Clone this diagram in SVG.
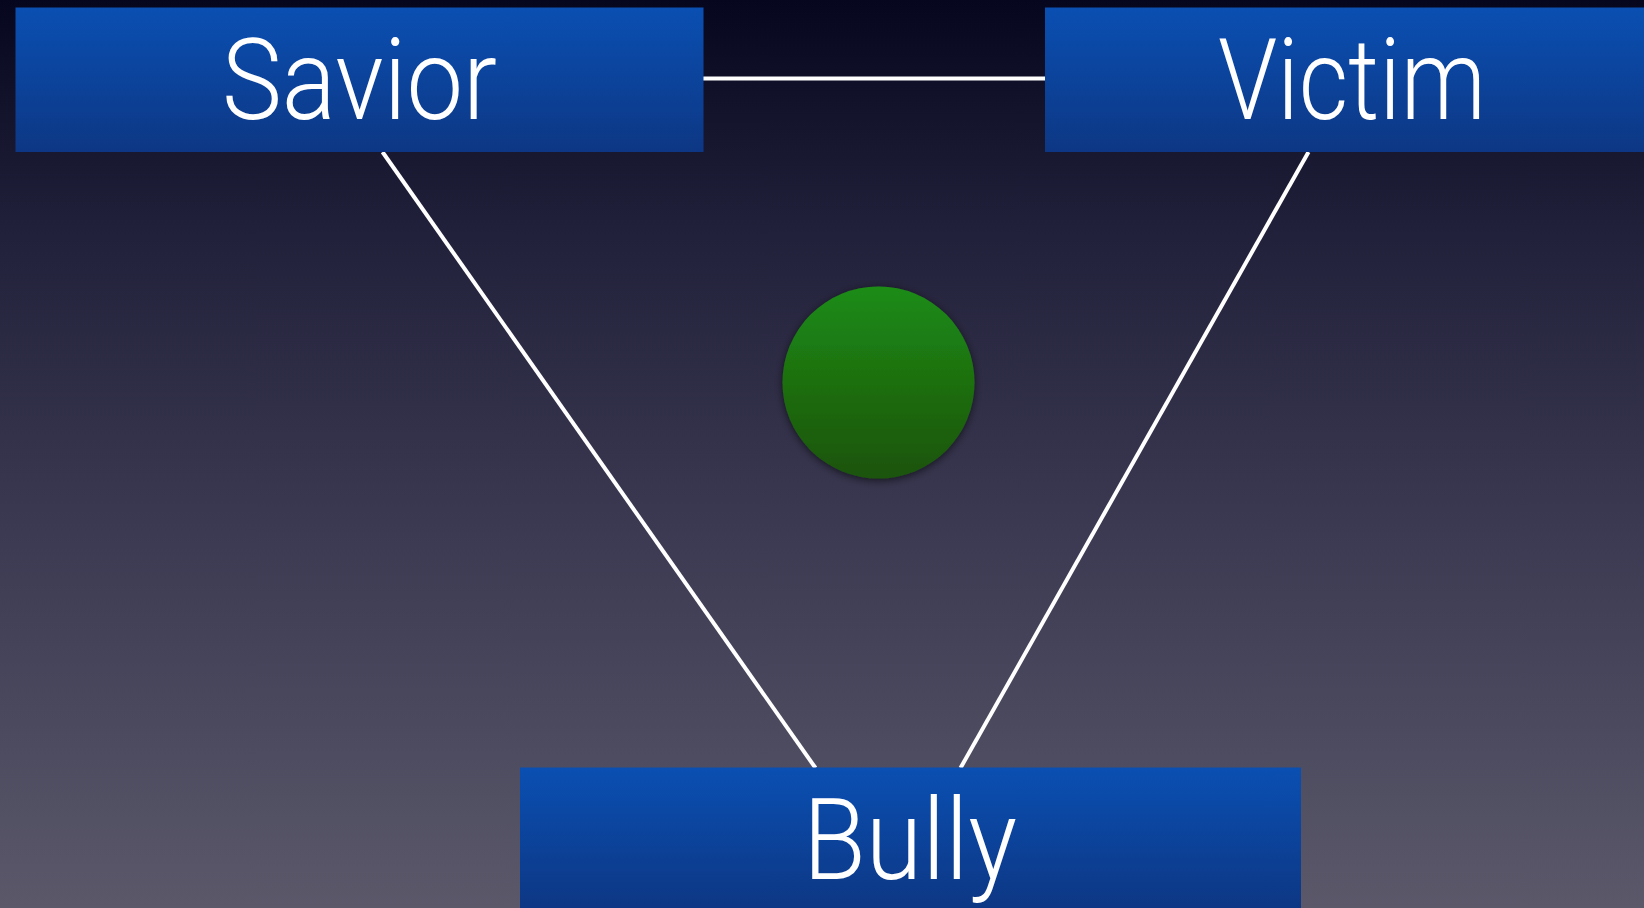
<svg xmlns="http://www.w3.org/2000/svg" width="1644" height="908" viewBox="0 0 1644 908">
<defs>
<linearGradient id="bg" x1="0" y1="0" x2="0" y2="1">
<stop offset="0" stop-color="#06071e"/>
<stop offset="0.25" stop-color="#21203a"/>
<stop offset="0.6" stop-color="#3d3b53"/>
<stop offset="1" stop-color="#5a5869"/>
</linearGradient>
<linearGradient id="box" x1="0" y1="0" x2="0" y2="1">
<stop offset="0" stop-color="#0a4fb2"/>
<stop offset="1" stop-color="#0d3784"/>
</linearGradient>
<linearGradient id="dot" x1="0" y1="0" x2="0" y2="1">
<stop offset="0" stop-color="#1f8c15"/>
<stop offset="1" stop-color="#1a530b"/>
</linearGradient>
<filter id="sh" x="-30%" y="-30%" width="160%" height="160%">
<feGaussianBlur in="SourceAlpha" stdDeviation="4"/>
<feOffset dy="2"/>
<feComponentTransfer><feFuncA type="linear" slope="0.6"/></feComponentTransfer>
<feMerge><feMergeNode/><feMergeNode in="SourceGraphic"/></feMerge>
</filter>
<style>
.lbl{fill:#ffffff;font-family:Roboto,"Liberation Sans",Arial,sans-serif;font-weight:300;font-size:114px;text-anchor:middle}
.conn{stroke:#ffffff;stroke-width:4;fill:none}
</style>
</defs>
<rect width="1644" height="908" fill="url(#bg)"/>
<g id="connectors">
<line class="conn" x1="703" y1="78.5" x2="1045" y2="78.5"/>
<line class="conn" x1="382.5" y1="152" x2="815.5" y2="768"/>
<line class="conn" x1="1308.5" y1="152" x2="960.5" y2="768"/>
</g>
<g id="savior">
<rect x="15.5" y="7.5" width="688" height="144.5" fill="url(#box)"/>
<text class="lbl" x="359.5" y="118.5" textLength="275" lengthAdjust="spacingAndGlyphs">Savior</text>
</g>
<g id="victim">
<rect x="1045" y="7.5" width="599" height="144.5" fill="url(#box)"/>
<text class="lbl" x="1352" y="118.5" textLength="268" lengthAdjust="spacingAndGlyphs">Victim</text>
</g>
<g id="bully">
<rect x="520" y="767.5" width="781" height="140.5" fill="url(#box)"/>
<text class="lbl" x="910" y="879" textLength="214" lengthAdjust="spacingAndGlyphs">Bully</text>
</g>
<g id="center-dot">
<circle cx="878.5" cy="382.5" r="96" fill="url(#dot)" filter="url(#sh)"/>
</g>
</svg>
